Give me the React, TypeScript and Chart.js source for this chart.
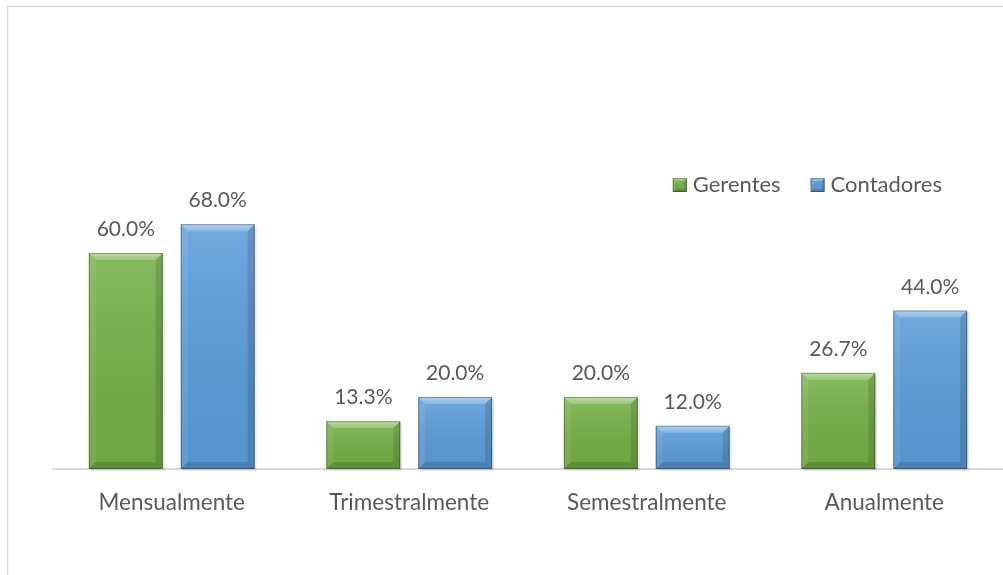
import React, { useEffect, useRef } from 'react';
import { Chart, registerables } from 'chart.js';

Chart.register(...registerables);

const categories = ['Mensualmente', 'Trimestralmente', 'Semestralmente', 'Anualmente'];
const gerentes = [60.0, 13.3, 20.0, 26.7];
const contadores = [68.0, 20.0, 12.0, 44.0];
const seriesNames = ['Gerentes', 'Contadores'];
const seriesColors = ['#74b046', '#5b9cda'];

const FONT = 'Lato, "Open Sans", sans-serif';
const TEXT = '#595959';
const LABEL_SIZE = 21;
const AXIS_SIZE = 22.5;
const LEGEND_SIZE = 22;

function bevelBox(ctx: CanvasRenderingContext2D, left: number, top: number, right: number, bottom: number, color: string, bev: number) {
  const b = Math.max(1, Math.min(bev, (bottom - top) / 2, (right - left) / 2));
  ctx.save();
  ctx.fillStyle = color;
  ctx.fillRect(left, top, right - left, bottom - top);
  const g = ctx.createLinearGradient(0, top, 0, bottom);
  g.addColorStop(0, 'rgba(255,255,255,0.14)');
  g.addColorStop(1, 'rgba(0,0,0,0.05)');
  ctx.fillStyle = g;
  ctx.fillRect(left, top, right - left, bottom - top);
  const poly = (pts: number[][], fill: string | CanvasGradient) => {
    ctx.beginPath();
    ctx.moveTo(pts[0][0], pts[0][1]);
    for (let i = 1; i < pts.length; i++) ctx.lineTo(pts[i][0], pts[i][1]);
    ctx.closePath();
    ctx.fillStyle = fill;
    ctx.fill();
  };
  const tg = ctx.createLinearGradient(0, top, 0, top + b);
  tg.addColorStop(0, 'rgba(255,255,255,0.45)');
  tg.addColorStop(1, 'rgba(255,255,255,0.18)');
  poly([[left, top], [right, top], [right - b, top + b], [left + b, top + b]], tg);
  poly([[left, top], [left + b, top + b], [left + b, bottom - b], [left, bottom]], 'rgba(255,255,255,0.08)');
  poly([[right, top], [right - b, top + b], [right - b, bottom - b], [right, bottom]], 'rgba(0,0,0,0.12)');
  poly([[left, bottom], [left + b, bottom - b], [right - b, bottom - b], [right, bottom]], 'rgba(0,0,0,0.14)');
  ctx.strokeStyle = 'rgba(0,0,0,0.30)';
  ctx.lineWidth = 1;
  ctx.strokeRect(left + 0.5, top + 0.5, right - left - 1, bottom - top - 1);
  ctx.restore();
}

const decorPlugin = {
  id: 'decor',
  beforeDraw(chart: any) {
    const ctx = chart.ctx as CanvasRenderingContext2D;
    ctx.save();
    ctx.fillStyle = '#ffffff';
    ctx.fillRect(0, 0, chart.width, chart.height);
    ctx.strokeStyle = '#d9d9d9';
    ctx.lineWidth = 1.5;
    ctx.beginPath();
    ctx.moveTo(7.5, chart.height);
    ctx.lineTo(7.5, 6.5);
    ctx.lineTo(chart.width, 6.5);
    ctx.stroke();
    ctx.restore();
  },
  beforeDatasetsDraw(chart: any) {
    const ctx = chart.ctx as CanvasRenderingContext2D;
    ctx.save();
    chart.data.datasets.forEach((_: any, di: number) => {
      const meta = chart.getDatasetMeta(di);
      meta.data.forEach((el: any) => {
        const { x, y, base, width } = el.getProps(['x', 'y', 'base', 'width'], true);
        ctx.fillStyle = 'rgba(0,0,0,0.09)';
        ctx.fillRect(x - width / 2 + 2, y + 2, width, base - y);
      });
    });
    ctx.restore();
  },
  afterDatasetsDraw(chart: any) {
    const ctx = chart.ctx as CanvasRenderingContext2D;
    chart.data.datasets.forEach((ds: any, di: number) => {
      const meta = chart.getDatasetMeta(di);
      meta.data.forEach((el: any, i: number) => {
        const { x, y, base, width } = el.getProps(['x', 'y', 'base', 'width'], true);
        bevelBox(ctx, x - width / 2, y, x + width / 2, base, seriesColors[di], 7);
        ctx.save();
        ctx.fillStyle = TEXT;
        ctx.font = `${LABEL_SIZE}px ${FONT}`;
        ctx.textAlign = 'center';
        ctx.textBaseline = 'alphabetic';
        ctx.fillText(ds.data[i].toFixed(1) + '%', x, y - 17);
        ctx.restore();
      });
    });
  },
  afterDraw(chart: any) {
    const ctx = chart.ctx as CanvasRenderingContext2D;
    ctx.save();
    ctx.font = `${LEGEND_SIZE}px ${FONT}`;
    ctx.textBaseline = 'alphabetic';
    ctx.textAlign = 'left';
    const baseline = 192;
    let right = 942;
    for (let i = seriesNames.length - 1; i >= 0; i--) {
      const w = ctx.measureText(seriesNames[i]).width;
      const tx = right - w;
      ctx.fillStyle = TEXT;
      ctx.fillText(seriesNames[i], tx, baseline);
      bevelBox(ctx, tx - 20, 178, tx - 6, 192, seriesColors[i], 3);
      right = tx - 20 - 30;
    }
    ctx.restore();
  },
};

export default function App() {
  const ref = useRef<HTMLCanvasElement | null>(null);
  useEffect(() => {
    document.body.style.margin = '0';
    document.body.style.overflow = 'hidden';
    const canvas = ref.current!;
    const chart = new Chart(canvas, {
      type: 'bar',
      data: {
        labels: categories,
        datasets: [
          { label: seriesNames[0], data: gerentes, backgroundColor: 'rgba(0,0,0,0)', borderWidth: 0 },
          { label: seriesNames[1], data: contadores, backgroundColor: 'rgba(0,0,0,0)', borderWidth: 0 },
        ],
      },
      options: {
        responsive: false,
        animation: false,
        layout: { padding: { left: 53, right: 0, top: 109, bottom: 0 } },
        datasets: { bar: { categoryPercentage: 0.774, barPercentage: 0.804 } } as any,
        plugins: { legend: { display: false }, tooltip: { enabled: false } },
        scales: {
          x: {
            grid: { display: false, drawTicks: false },
            border: { display: true, color: '#d9d9d9', width: 2 },
            ticks: { color: TEXT, font: { family: FONT, size: AXIS_SIZE }, padding: 20, maxRotation: 0, autoSkip: false },
            afterFit(scale: any) { scale.height = 575 - 469; },
          },
          y: { display: false, min: 0, max: 100 },
        },
      },
      plugins: [decorPlugin],
    });
    return () => chart.destroy();
  }, []);
  return <canvas ref={ref} width={1003} height={575} style={{ display: 'block' }} />;
}
